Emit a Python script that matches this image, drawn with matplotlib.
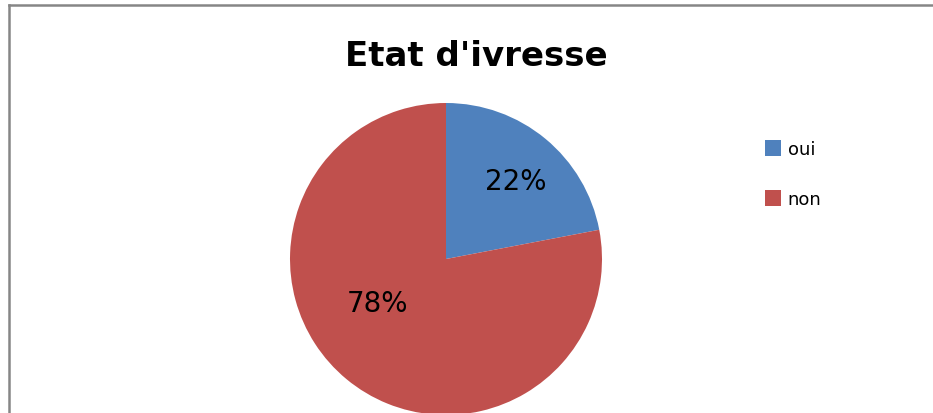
import matplotlib.pyplot as plt

categories = ['oui', 'non']
shares = [22, 78]
colors = ['#4F81BD', '#C0504D']
pct_labels = ['%d%%' % v for v in shares]

W, H = 933, 414
fig = plt.figure(figsize=(W / 100, H / 100), dpi=100)
fig.patch.set_facecolor('white')

# chart area frame (grey, open on the right and bottom)
fig.add_artist(plt.Line2D([9 / W, 9 / W], [0, 1 - 6 / H], color='#868686', lw=1.8))
fig.add_artist(plt.Line2D([9 / W, 1], [1 - 6 / H, 1 - 6 / H], color='#868686', lw=1.8))

cx, cy, r = 446, 260, 156
ax = fig.add_axes([(cx - r) / W, (H - cy - r) / H, 2 * r / W, 2 * r / H])
wedges, _ = ax.pie(shares, colors=colors, startangle=90, counterclock=False,
                   radius=1, wedgeprops=dict(linewidth=0))
ax.set_xlim(-1, 1)
ax.set_ylim(-1, 1)
ax.axis('off')
for w in wedges:
    w.set_clip_on(False)

# percentage labels
label_pos = [(0.45, 0.50), (-0.44, -0.28)]
for (x, y), t in zip(label_pos, pct_labels):
    ax.text(x, y, t, ha='center', va='center', fontsize=20, family='DejaVu Sans')

fig.text(476 / W, 1 - 57 / H, "Etat d'ivresse", ha='center', va='center',
         fontsize=24.5, fontweight='bold', family='DejaVu Sans')

fig.legend(wedges, categories, loc='upper left', bbox_to_anchor=(758 / W, 1 - 134 / H),
           frameon=False, fontsize=13, handlelength=0.85, handleheight=1.0,
           handletextpad=0.4, labelspacing=1.75, borderaxespad=0)

fig.savefig('out.png', dpi=100)
